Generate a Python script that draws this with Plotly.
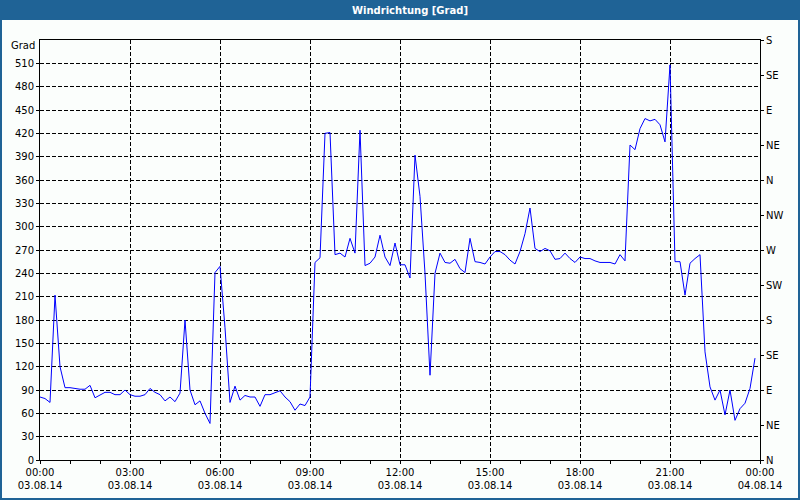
import plotly.graph_objects as go
import pandas as pd

# ---- data (10-minute wind direction values, degrees) ----
start_time = "2014-08-03 00:00"
step = "10min"
wind_dir = [
    81, 79, 74, 212, 120, 93, 93, 92, 91, 91,
    96, 80, 84, 87, 87, 84, 84, 90, 84, 82,
    82, 84, 92, 87, 84, 76, 81, 75, 86, 180,
    90, 71, 76, 60, 47, 241, 249, 170, 74, 95,
    77, 83, 81, 81, 69, 84, 84, 87, 89, 81,
    75, 64, 72, 70, 81, 254, 260, 420, 421, 264,
    266, 261, 285, 266, 424, 250, 253, 261, 289, 261,
    250, 279, 251, 251, 234, 392, 339, 240, 109, 240,
    266, 254, 253, 258, 246, 241, 285, 255, 254, 252,
    261, 268, 268, 264, 257, 252, 268, 291, 324, 272,
    268, 272, 269, 258, 259, 266, 259, 254, 261, 259,
    259, 256, 254, 254, 254, 252, 264, 256, 405, 399,
    426, 439, 436, 438, 431, 409, 508, 255, 255, 212,
    253, 259, 264, 139, 94, 77, 90, 58, 90, 51,
    66, 73, 92, 131,
]
times = pd.date_range(start_time, periods=len(wind_dir), freq=step)

x_tick_vals = pd.date_range("2014-08-03 00:00", "2014-08-04 00:00", freq="3h")
x_tick_times = ["00:00", "03:00", "06:00", "09:00", "12:00", "15:00", "18:00", "21:00", "00:00"]
x_tick_dates = ["03.08.14"] * 8 + ["04.08.14"]
x_tick_text = [f"{t}<br>{d}" for t, d in zip(x_tick_times, x_tick_dates)]

y_left_ticks = list(range(0, 511, 30))
y_right_ticks = list(range(0, 541, 45))
y_right_labels = ["N", "NE", "E", "SE", "S", "SW", "W", "NW", "N", "NE", "E", "SE", "S"]

title_text = "Windrichtung [Grad]"
unit_text = "Grad"

# ---- figure ----
W, H = 800, 500
L, R, T, B = 40, 40, 40, 40
pw, ph = W - L - R, H - T - B

def px_x(p):
    return (p - L) / pw

def px_y(p):
    return (H - B - p) / ph

BG = "#FBFEFC"
BLUE = "#1F6396"
FONT = "DejaVu Sans"
FS = 10

fig = go.Figure()
fig.add_trace(go.Scatter(
    x=times, y=wind_dir, mode="lines",
    line=dict(color="#0000FF", width=1),
    showlegend=False, hoverinfo="x+y",
))
fig.add_trace(go.Scatter(
    x=[times[0]], y=[None], yaxis="y2", mode="lines",
    showlegend=False, hoverinfo="skip",
))

fig.update_layout(
    width=W, height=H,
    margin=dict(l=L, r=R, t=T, b=B, pad=0, autoexpand=False),
    paper_bgcolor=BG, plot_bgcolor=BG,
    font=dict(family=FONT, size=FS, color="black"),
    xaxis=dict(
        type="date", automargin=False,
        range=["2014-08-03 00:00", "2014-08-04 00:00"],
        tickvals=list(x_tick_vals), ticktext=x_tick_text,
        ticks="outside", ticklen=3, tickcolor="black",
        showline=True, linecolor="black", linewidth=1, mirror=True,
        showgrid=True, gridcolor="black", gridwidth=1, griddash="4px,2px",
        minor=dict(dtick=3600000, ticks="outside", ticklen=3, tickcolor="black", showgrid=False),
        zeroline=False, fixedrange=True,
    ),
    yaxis=dict(
        range=[0, 540], automargin=False,
        tickvals=y_left_ticks,
        ticks="outside", ticklen=3, tickcolor="black",
        showline=True, linecolor="black", linewidth=1, mirror=True,
        showgrid=True, gridcolor="black", gridwidth=1, griddash="4px,2px",
        zeroline=False, fixedrange=True,
    ),
    yaxis2=dict(
        range=[0, 540], overlaying="y", side="right", automargin=False,
        tickvals=y_right_ticks, ticktext=y_right_labels,
        ticks="outside", ticklen=3, tickcolor="black",
        showgrid=False, zeroline=False, showline=False, fixedrange=True,
    ),
)

# title bar
fig.add_shape(type="rect", xref="paper", yref="paper",
              x0=px_x(0), x1=px_x(W), y0=px_y(20), y1=px_y(0),
              fillcolor=BLUE, line=dict(width=0), layer="above")
# outer border
fig.add_shape(type="rect", xref="paper", yref="paper",
              x0=px_x(1), x1=px_x(W - 1), y0=px_y(H - 1), y1=px_y(1),
              fillcolor="rgba(0,0,0,0)", line=dict(color=BLUE, width=2), layer="above")

fig.add_annotation(text=f"<b>{title_text}</b>", xref="paper", yref="paper",
                   x=px_x(410), y=px_y(10), xanchor="center", yanchor="middle",
                   showarrow=False, font=dict(family=FONT, size=FS, color="white"))
fig.add_annotation(text=unit_text, xref="paper", yref="paper",
                   x=px_x(37), y=px_y(46), xanchor="right", yanchor="middle",
                   showarrow=False, font=dict(family=FONT, size=FS, color="black"))

fig.write_html(
    "out.html",
    config={"displayModeBar": False},
    post_script="document.body.style.margin='0';document.body.style.overflow='hidden';",
)
